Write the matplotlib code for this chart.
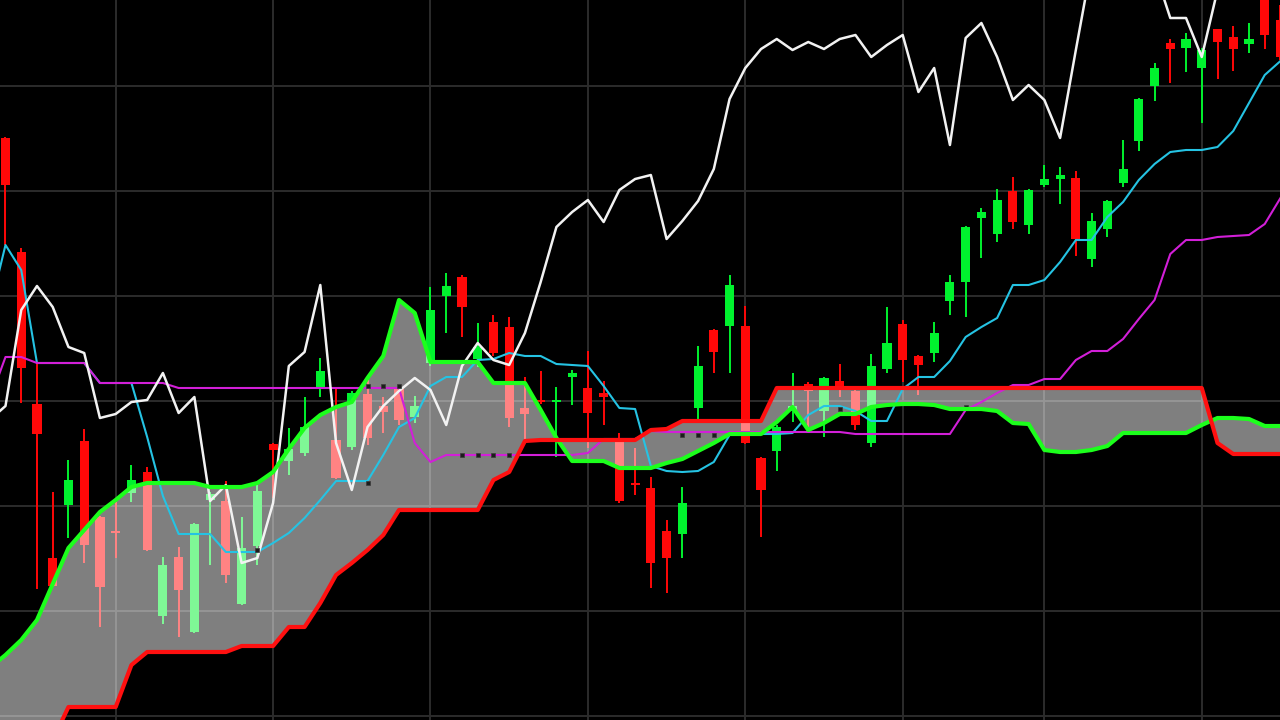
import numpy as np
import matplotlib
matplotlib.use("Agg")
import matplotlib.pyplot as plt

# ---------------- data (candle index 0..81) ----------------
opens = [158.2,146.8,131.6,116.2,121.5,127.9,120.3,118.9,122.7,124.8,
         110.4,116.3,108.8,122.0,121.9,111.6,117.4,127.6,125.9,126.7,
         133.2,128.0,127.3,132.6,131.4,133.1,130.3,135.7,142.4,144.3,
         136.1,139.8,139.3,131.2,132.0,131.8,134.3,133.2,132.7,127.8,
         123.7,123.2,118.9,118.6,131.2,139.0,139.4,139.4,126.2,126.9,
         130.9,133.6,130.9,133.9,132.9,127.7,135.1,139.6,136.4,136.7,
         141.9,143.8,150.2,148.6,152.9,149.5,153.5,154.1,154.2,146.1,
         149.1,153.7,157.9,163.4,167.7,167.2,165.2,169.1,168.3,167.6,
         172.5,170.0]
highs = [158.3,147.2,135.8,122.8,126.0,129.1,120.4,121.8,125.5,125.3,
         116.3,117.3,119.7,122.8,123.9,120.3,123.7,127.7,129.2,132.3,
         136.2,133.1,132.9,134.5,132.3,133.4,132.4,143.3,144.7,144.5,
         139.7,140.5,140.3,134.3,134.9,133.3,135.0,136.9,133.9,128.7,
         127.2,124.3,120.0,123.3,137.4,139.1,144.5,141.4,126.3,129.5,
         134.7,133.8,134.3,135.6,133.0,136.6,141.3,140.0,136.5,139.8,
         144.5,149.4,151.2,153.1,154.3,153.1,155.5,155.3,154.9,150.7,
         152.0,158.0,162.2,165.7,168.1,168.7,167.2,169.1,169.4,169.7,
         173.0,171.5]
lows = [147.5,131.7,113.1,113.3,118.2,115.7,109.3,116.2,121.8,116.9,
        109.6,108.3,108.7,115.5,113.7,111.5,115.5,122.2,124.5,126.4,
        132.3,124.1,127.0,127.5,128.7,129.5,129.7,135.4,138.7,138.3,
        135.3,136.4,129.3,128.0,131.6,126.3,131.5,127.2,129.5,121.7,
        122.5,113.2,112.7,116.2,129.7,134.7,134.7,127.6,118.3,124.9,
        129.8,129.3,128.3,132.3,129.0,127.3,134.7,133.8,132.5,135.8,
        140.5,140.3,146.2,147.8,149.1,148.6,153.3,151.6,146.4,145.3,
        148.3,153.3,156.9,161.9,163.7,164.8,159.7,164.1,164.9,166.7,
        167.1,166.0]
closes = [153.5,135.2,128.6,113.4,124.0,117.5,113.3,118.7,124.0,117.0,
          115.5,113.0,119.6,122.6,114.5,117.2,122.9,127.0,127.1,129.3,
          134.9,124.2,132.7,128.2,130.8,130.0,131.4,141.0,143.4,141.3,
          137.3,136.7,130.2,130.6,131.8,132.0,134.7,130.7,132.3,121.9,
          123.5,115.7,116.2,121.7,135.4,136.8,143.5,127.7,123.0,129.3,
          131.4,132.9,134.2,133.0,129.5,135.4,137.7,136.0,135.5,138.7,
          143.8,149.3,150.8,152.0,149.8,153.0,154.1,154.5,148.1,149.9,
          151.9,155.1,162.1,165.2,167.1,168.1,167.0,167.8,167.1,168.1,
          168.5,166.3]
# closes after the visible window (only seen through the lagging span)
later_closes = [167.5,168.5,162.8,165.2,157.5,168.2,169.7,166.3,162.0,163.5,
                162.0,158.2,167.0,175.6,177.0,177.5,176.5,175.0,170.2,170.2,
                166.3,173.0]

# indicator lines, index -1..81
tenkan = [141.0,147.5,145.0,135.7,135.7,135.7,135.7,133.7,133.7,133.7,
          128.3,122.4,118.6,118.6,118.6,116.8,116.8,116.8,117.7,118.7,
          120.2,122.0,123.9,123.9,123.9,126.5,129.3,130.2,133.4,134.3,
          134.3,136.0,136.1,136.7,136.4,136.4,135.6,135.5,135.4,133.4,
          131.2,131.1,125.4,124.9,124.8,124.9,125.8,128.5,128.6,128.6,
          128.6,128.7,130.5,131.4,131.4,130.9,129.9,129.9,133.1,134.3,
          134.3,135.9,138.3,139.3,140.2,143.5,143.5,144.0,145.8,148.0,
          148.0,150.3,151.8,154.0,155.6,156.8,157.0,157.0,157.3,158.9,
          161.7,164.5,165.9]
kijun = [132.0,136.3,136.3,135.7,135.7,135.7,135.7,133.7,133.7,133.7,
         133.7,133.7,133.2,133.2,133.2,133.2,133.2,133.2,133.2,133.2,
         133.2,133.2,133.2,133.2,133.2,133.2,133.2,127.7,125.8,126.5,
         126.5,126.5,126.5,126.5,126.5,126.5,126.5,126.5,126.7,128.1,
         128.1,128.1,128.9,128.8,128.8,128.8,128.8,128.8,128.8,128.8,
         128.8,128.8,128.8,128.8,128.8,128.6,128.6,128.6,128.6,128.6,
         128.6,128.6,131.0,131.8,132.7,133.5,133.5,134.1,134.1,136.0,
         136.9,136.9,138.1,140.1,142.0,146.6,148.0,148.0,148.3,148.4,
         148.5,149.6,152.2]
span_a = [105.2,106.5,108.0,110.0,113.6,117.2,119.0,120.8,122.0,123.3,
          123.7,123.7,123.7,123.7,123.3,123.3,123.3,123.7,124.8,127.1,
          129.2,130.5,131.3,131.8,134.2,136.4,142.0,140.7,135.8,135.8,
          135.8,135.8,133.7,133.7,133.7,131.0,128.2,125.9,125.9,125.9,
          125.2,125.2,125.2,125.7,126.1,126.9,127.7,128.6,128.6,128.6,
          129.8,131.3,129.0,129.7,130.6,130.6,131.3,131.5,131.6,131.6,
          131.5,131.1,131.1,131.1,130.9,129.7,129.6,127.0,126.8,126.8,
          127.0,127.4,128.7,128.7,128.7,128.7,128.7,129.5,130.2,130.2,
          130.1,129.4,129.4]
span_b = [96.0,96.0,96.0,96.5,98.0,101.3,101.3,101.3,101.3,105.5,
          106.8,106.8,106.8,106.8,106.8,106.8,107.4,107.4,107.4,109.3,
          109.3,111.7,114.5,115.7,117.0,118.5,121.0,121.0,121.0,121.0,
          121.0,121.0,124.0,124.8,127.9,128.0,128.0,128.0,128.0,128.0,
          128.0,128.0,129.0,129.1,129.9,129.9,129.9,129.9,129.9,129.9,
          133.2,133.2,133.2,133.2,133.2,133.2,133.2,133.2,133.2,133.2,
          133.2,133.2,133.2,133.2,133.2,133.2,133.2,133.2,133.2,133.2,
          133.2,133.2,133.2,133.2,133.2,133.2,133.2,133.2,127.7,126.6,
          126.6,126.6,126.6]

# small dark marks seen on some flat line segments
mark_idx = [16, 23, 23, 24, 25, 29, 30, 31, 32, 43, 44, 45, 53, 61]
mark_val = [117.0, 123.7, 133.4, 133.4, 133.4, 126.5, 126.5, 126.5, 126.5,
            128.5, 128.5, 128.5, 131.1, 131.3]

grid_x = [7, 17, 27, 37, 47, 57, 66, 76]
grid_y = [100.42, 110.92, 121.42, 131.92, 142.42, 152.92, 163.42]

# ---------------- styling ----------------
RED = '#ff0808'
GREEN = '#00f22e'
CYAN = '#25c3e3'
MAGENTA = '#d21fd8'
WHITE = '#f2f2f2'
CLOUD_GREEN = '#1cff1c'
CLOUD_RED = '#ff1010'

fig = plt.figure(figsize=(12.8, 7.2), dpi=100, facecolor='black')
ax = fig.add_axes([0, 0, 1, 1])
ax.set_facecolor('black')
ax.set_xlim(-0.349, 80.97)
ax.set_ylim(100, 172)
for s in ax.spines.values():
    s.set_visible(False)
ax.set_xticks(grid_x)
ax.set_yticks(grid_y)
ax.tick_params(length=0, labelbottom=False, labelleft=False)
ax.grid(True, color='#2c2c2c', lw=1.4, zorder=0)
ax.set_axisbelow(True)

o = np.array(opens); h = np.array(highs); l = np.array(lows); c = np.array(closes)
k = np.arange(len(o))
cols = np.where(c >= o, GREEN, RED)
ax.vlines(k, l, h, colors=cols, lw=1.4, zorder=2)
ax.bar(k, np.abs(c - o), bottom=np.minimum(o, c), width=0.58, color=cols,
       linewidth=0, zorder=2.1)

lx = np.arange(-1, len(span_a) - 1)
ax.fill_between(lx, span_a, span_b, color='white', alpha=0.5, lw=0, zorder=3)

ax.plot(lx, tenkan, color=CYAN, lw=1.5, zorder=4)
ax.plot(lx, kijun, color=MAGENTA, lw=1.5, zorder=5)

chikou = np.concatenate([c[25:], np.array(later_closes)])
cx = np.arange(-1, -1 + len(chikou))
ax.plot(cx, chikou, color=WHITE, lw=1.8, zorder=6)

ax.plot(mark_idx, mark_val, ls='none', marker='s', ms=3.0, mfc='#1c1c1c',
        mec='#3a3a3a', mew=0.5, zorder=6.5)

ax.plot(lx, span_a, color=CLOUD_GREEN, lw=3.0, zorder=7)
ax.plot(lx, span_b, color=CLOUD_RED, lw=3.0, zorder=7.5)

fig.savefig('out.png', dpi=100, facecolor='black')
